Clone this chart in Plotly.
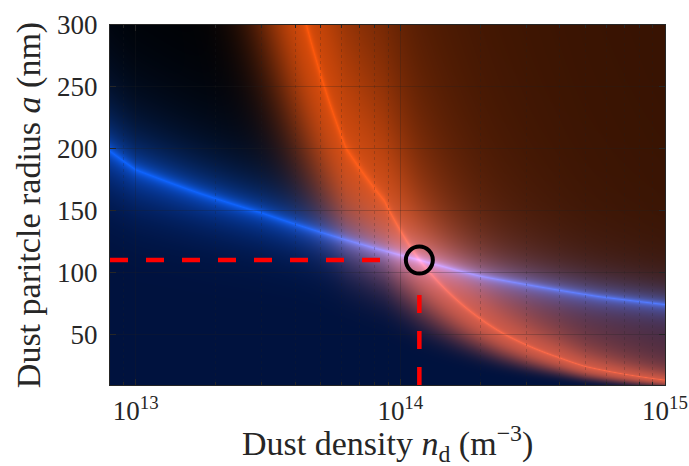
import base64
import struct
import zlib

import numpy as np
import plotly.graph_objects as go

# ---------------- data ----------------
n_range = [8e12, 1e15]          # dust density axis limits (m^-3)
a_range = [9, 300]              # particle radius axis limits (nm)

# ridge (brightest line) of the blue band
blue_n = [8e12, 1e13, 1.74e13, 3.0e13, 1.18e14, 2.0e14, 5.6e14, 1e15]
blue_a = [198, 183, 164, 148, 110, 97, 80.5, 74]

# ridge (brightest line) of the orange band
orange_n = [4.42e13, 6.25e13, 8.7e13, 1.18e14, 2.43e14, 4.0e14, 5.0e14, 1e15]
orange_a = [300, 200, 158, 110, 51, 31, 24, 13]

# operating point (circle) and dashed guide lines
point_n = [1.18e14]
point_a = [110]
hguide_n = [8e12, 9e13]
hguide_a = [110, 110]
vguide_n = [1.18e14, 1.18e14]
vguide_a = [9, 90]

xtick_vals = [1e13, 1e14, 1e15]
xtick_text = ["10<sup>13</sup>", "10<sup>14</sup>", "10<sup>15</sup>"]
xminor_vals = [9e12] + [k * 1e13 for k in range(2, 10)] + [k * 1e14 for k in range(2, 10)]
ytick_vals = [50, 100, 150, 200, 250, 300]

x_title = "Dust density <i>n</i><sub>d</sub> (m<sup>−3</sup>)"
y_title = "Dust paritcle radius <i>a</i> (nm)"


# ---------------- background image ----------------
def ridge_log(lx, xs, ys):
    """log10 of the ridge radius at log10 density lx (log-log, linear end extrapolation)."""
    lxs = np.log10(np.asarray(xs, float))
    lys = np.log10(np.asarray(ys, float))
    out = np.interp(lx, lxs, lys)
    sl0 = (lys[1] - lys[0]) / (lxs[1] - lxs[0])
    sl1 = (lys[-1] - lys[-2]) / (lxs[-1] - lxs[-2])
    out = np.where(lx < lxs[0], lys[0] + sl0 * (lx - lxs[0]), out)
    out = np.where(lx > lxs[-1], lys[-1] + sl1 * (lx - lxs[-1]), out)
    return out


W, H = 555, 360
lx0, lx1 = np.log10(n_range[0]), np.log10(n_range[1])
lx = lx0 + (np.arange(W) + 0.5) / W * (lx1 - lx0)
ay = a_range[1] - (np.arange(H) + 0.5) / H * (a_range[1] - a_range[0])
LX, AY = np.meshgrid(lx, ay)
LA = np.log10(AY)

db = LA - ridge_log(LX, blue_n, blue_a)
do = LA - ridge_log(LX, orange_n, orange_a)

blue_peak = np.array([15, 100, 255], float)
navy = np.array([0, 18, 62], float)
orange_peak = np.array([255, 88, 10], float)

t_ab = 0.3 * np.exp(-np.abs(db) / 0.01) + 0.7 * np.exp(-np.abs(db) / 0.075)
t_be = 0.3 * np.exp(-np.abs(db) / 0.01) + 0.7 * np.exp(-np.abs(db) / 0.06)
above = (db > 0)[..., None]
blue_rgb = np.where(above,
                    blue_peak * t_ab[..., None],
                    navy + (blue_peak - navy) * t_be[..., None])

t_left = 0.18 * np.exp(-np.abs(do) / 0.012) + 0.82 * np.exp(-(do / 0.23) ** 2)
t_right = 0.2 * np.exp(-np.abs(do) / 0.012) + 0.2 + 0.6 / (1 + (do / 0.25) ** 2)
t_o = np.where(do > 0, t_right, t_left)
orange_rgb = orange_peak * t_o[..., None]

rgb = np.clip(blue_rgb + orange_rgb, 0, 255).astype(np.uint8)


def png_bytes(arr):
    h, w, _ = arr.shape
    raw = b"".join(b"\x00" + arr[r].tobytes() for r in range(h))

    def chunk(tag, data):
        return (struct.pack(">I", len(data)) + tag + data
                + struct.pack(">I", zlib.crc32(tag + data) & 0xFFFFFFFF))

    return (b"\x89PNG\r\n\x1a\n"
            + chunk(b"IHDR", struct.pack(">IIBBBBB", w, h, 8, 2, 0, 0, 0))
            + chunk(b"IDAT", zlib.compress(raw, 9))
            + chunk(b"IEND", b""))


img_src = "data:image/png;base64," + base64.b64encode(png_bytes(rgb)).decode()

# ---------------- figure ----------------
FONT = "Liberation Serif"
INK = "rgb(38,38,38)"
RED = "rgb(255,0,0)"

fig = go.Figure()

fig.add_trace(go.Scatter(x=hguide_n, y=hguide_a, mode="lines",
                         line=dict(color=RED, width=4.5, dash="18px,18px"),
                         hoverinfo="skip", showlegend=False))
fig.add_trace(go.Scatter(x=vguide_n, y=vguide_a, mode="lines",
                         line=dict(color=RED, width=4.5, dash="18px,18px"),
                         hoverinfo="skip", showlegend=False))
fig.add_trace(go.Scatter(x=point_n, y=point_a, mode="markers",
                         marker=dict(symbol="circle-open", size=27,
                                     color="black", line=dict(width=4, color="black")),
                         showlegend=False))

fig.add_layout_image(dict(source=img_src, xref="x", yref="y",
                          x=lx0, y=a_range[1], sizex=lx1 - lx0,
                          sizey=a_range[1] - a_range[0],
                          xanchor="left", yanchor="top",
                          sizing="stretch", layer="below"))

axis_common = dict(
    ticks="inside", ticklen=6, tickwidth=1, tickcolor=INK,
    mirror="allticks", showline=True, linecolor=INK, linewidth=1,
    showgrid=True, gridcolor="rgba(30,30,30,0.25)", gridwidth=1,
    zeroline=False, automargin=False,
    tickfont=dict(family=FONT, size=27, color=INK),
)

fig.update_xaxes(
    type="log", range=[lx0, lx1],
    tickmode="array", tickvals=xtick_vals, ticktext=xtick_text,
    minor=dict(tickmode="array", tickvals=xminor_vals, ticks="inside", ticklen=3,
               tickcolor=INK, showgrid=True, gridcolor="rgba(30,30,30,0.22)",
               griddash="dot", gridwidth=1),
    ticklabelstandoff=2,
    **axis_common,
)
fig.update_yaxes(
    range=a_range, tickmode="array", tickvals=ytick_vals,
    ticklabelstandoff=6,
    title=dict(text=y_title, font=dict(family=FONT, size=34, color=INK), standoff=6),
    **axis_common,
)

fig.add_annotation(text=x_title, xref="paper", yref="paper", x=0.5, y=0,
                   xanchor="center", yanchor="middle", yshift=-58, showarrow=False,
                   font=dict(family=FONT, size=34, color=INK))

fig.update_layout(
    width=689, height=466,
    margin=dict(l=110, r=24, t=25, b=81),
    paper_bgcolor="white", plot_bgcolor="rgba(0,0,0,0)",
    font=dict(family=FONT, color=INK),
)

fig.write_html("out.html")
